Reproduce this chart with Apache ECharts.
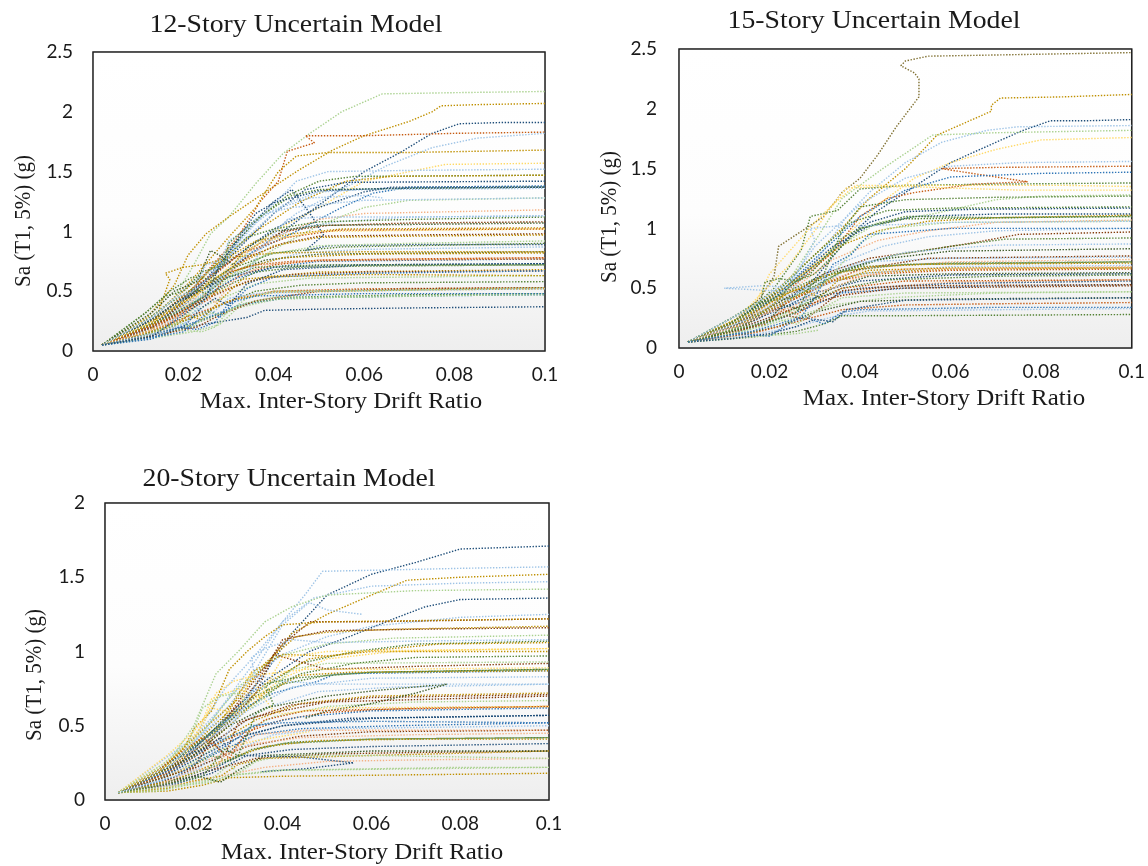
<!DOCTYPE html>
<html><head><meta charset="utf-8">
<style>html,body{margin:0;padding:0;background:#fff}#c{width:1148px;height:866px;filter:blur(.35px)}</style>
<script src="https://cdn.jsdelivr.net/npm/echarts@6/dist/echarts.min.js"></script>
</head><body><div id="c"></div>
<script>
const titles = ['12-Story Uncertain Model','15-Story Uncertain Model','20-Story Uncertain Model'];
const xName = 'Max. Inter-Story Drift Ratio';
const yName = 'Sa (T1, 5%) (g)';
const yMaxes = [2.5,2.5,2];
const palette = ['#2E75B6','#1F4E79','#9DC3E6','#548235','#A9D18E','#BF9000','#FFD966','#C55A11','#F4B183','#843C0C','#385723','#7F6F30'];

// flat x,y pairs
const curves12 = [
[.002,.05,.012,.25,.018,.45,.022,.7,.026,.98,.03,1.12,.036,1.4,.042,1.65,.048,1.82,.055,2.0,.064,2.15,.08,2.16,.1,2.17],
[.002,.05,.012,.28,.018,.55,.021,.8,.025,.98,.03,1.12,.037,1.3,.045,1.5,.053,1.68,.06,1.8,.07,1.92,.075,2.0,.077,2.05,.085,2.06,.1,2.07],
[.002,.05,.012,.2,.02,.38,.028,.62,.035,.82,.042,1.0,.05,1.22,.06,1.5,.068,1.66,.075,1.82,.081,1.9,.09,1.91,.1,1.91],
[.002,.05,.012,.2,.02,.42,.026,.7,.032,.95,.037,1.25,.041,1.42,.043,1.67,.049,1.74,.047,1.8,.06,1.8,.08,1.82,.1,1.83],
[.002,.05,.015,.22,.025,.5,.035,.85,.045,1.15,.055,1.35,.065,1.55,.075,1.7,.085,1.78,.1,1.82],
[.002,.05,.014,.3,.022,.6,.03,.95,.036,1.2,.041,1.5,.045,1.63,.052,1.66,.07,1.66,.1,1.68],
[.002,.05,.015,.3,.025,.6,.035,1.05,.04,1.25,.044,1.35,.048,1.15,.051,.97,.047,.84,.052,.88,.07,.89,.1,.89],
[.002,.05,.016,.25,.03,.7,.04,1.0,.05,1.2,.06,1.42,.07,1.5,.078,1.56,.1,1.57],
[.002,.05,.014,.22,.024,.55,.032,.9,.038,1.15,.045,1.42,.052,1.5,.07,1.51,.1,1.52],
[.002,.05,.013,.25,.022,.52,.03,.85,.037,1.12,.043,1.3,.05,1.42,.058,1.46,.1,1.47],
[.002,.05,.012,.22,.02,.45,.028,.75,.036,1.0,.046,1.25,.056,1.42,.066,1.46,.1,1.47],
[.002,.05,.015,.25,.024,.55,.032,.85,.04,1.15,.047,1.35,.056,1.41,.1,1.42],
[.002,.05,.016,.2,.025,.48,.035,.82,.045,1.0,.055,1.2,.062,1.32,.07,1.37,.1,1.38],
[.002,.05,.014,.24,.022,.5,.03,.75,.04,1.02,.05,1.2,.06,1.33,.066,1.37,.1,1.37],
[.002,.05,.012,.2,.024,.55,.034,.95,.042,1.22,.05,1.33,.06,1.35,.1,1.36],
[.002,.05,.018,.22,.03,.6,.04,.85,.05,1.05,.06,1.2,.07,1.26,.1,1.28],
[.002,.05,.02,.3,.03,.65,.04,.95,.05,1.1,.06,1.15,.1,1.18],
[.002,.05,.014,.22,.024,.5,.034,.8,.044,1.02,.054,1.08,.07,1.12,.1,1.13],
[.002,.05,.012,.2,.022,.48,.032,.8,.042,1.0,.052,1.05,.07,1.07,.1,1.08],
[.002,.05,.012,.26,.02,.5,.028,.74,.036,.92,.044,.98,.055,1.02,.1,1.03],
[.002,.05,.014,.28,.023,.55,.033,.82,.043,.95,.054,1.01,.1,1.02],
[.002,.05,.015,.25,.025,.55,.034,.78,.042,.9,.05,.96,.07,.97,.1,.98],
[.002,.05,.012,.2,.022,.46,.03,.68,.04,.88,.05,.95,.07,.96,.1,.97],
[.002,.05,.016,.22,.028,.58,.038,.8,.05,.88,.07,.9,.1,.92],
[.002,.05,.012,.24,.02,.44,.03,.68,.04,.82,.055,.87,.1,.9],
[.002,.05,.017,.25,.026,.48,.036,.72,.046,.82,.06,.85,.1,.87],
[.002,.05,.012,.22,.02,.42,.03,.65,.038,.76,.05,.81,.1,.83],
[.002,.05,.014,.26,.024,.5,.032,.68,.042,.78,.06,.81,.1,.82],
[.002,.05,.015,.22,.025,.46,.033,.64,.04,.72,.05,.76,.07,.77,.1,.78],
[.002,.05,.013,.2,.023,.42,.031,.6,.04,.7,.05,.75,.1,.77],
[.002,.05,.011,.22,.02,.44,.03,.62,.04,.7,.055,.72,.1,.73],
[.002,.05,.016,.28,.025,.46,.036,.66,.045,.7,.06,.71,.1,.72],
[.002,.05,.018,.3,.028,.5,.038,.62,.05,.66,.1,.68],
[.002,.05,.013,.2,.024,.42,.034,.58,.044,.64,.06,.66,.1,.67],
[.002,.05,.015,.18,.026,.4,.036,.56,.048,.61,.1,.63],
[.002,.05,.017,.2,.028,.38,.036,.5,.046,.55,.06,.57,.1,.58],
[.002,.05,.012,.16,.022,.3,.032,.44,.04,.5,.06,.52,.1,.53],
[.002,.05,.014,.18,.024,.3,.03,.42,.04,.49,.07,.51,.1,.52],
[.002,.05,.016,.14,.026,.28,.034,.4,.044,.45,.07,.47,.1,.48],
[.002,.05,.016,.16,.024,.26,.032,.38,.042,.44,.07,.46,.1,.47],
[.002,.05,.012,.12,.024,.22,.034,.28,.038,.34,.05,.35,.07,.36,.1,.37],
[.002,.05,.013,.17,.017,.6,.016,.65,.02,.7,.024,.72,.03,.78,.04,.82,.06,.83,.1,.83],
[.002,.05,.012,.1,.022,.16,.028,.22,.032,.36,.04,.43,.06,.46,.1,.47],
[.002,.05,.015,.14,.023,.2,.028,.3,.036,.42,.05,.5,.07,.52,.1,.53],
[.002,.05,.018,.28,.026,.44,.03,.66,.036,.72,.044,.75,.06,.76,.1,.77],
[.002,.05,.014,.3,.021,.55,.028,.72,.03,.92,.034,1.02,.04,1.18,.048,1.28,.06,1.3,.064,1.28]
];
const colors12 = [4,5,1,7,2,5,1,6,2,3,5,1,0,1,2,4,8,2,9,5,7,9,5,4,3,2,10,5,7,0,1,3,5,9,4,3,7,5,3,0,1,5,4,9,7,2];
const wobble12 = [
[.002,.05,.012,.33,.017,.5,.022,.62,.026,.6,.03,.8,.034,.95,.04,1.02,.05,1.08,.07,1.1,.1,1.12],
[.002,.05,.011,.3,.016,.46,.02,.5,.024,.66,.029,.72,.03,.9,.036,1.1,.044,1.3,.05,1.35,.07,1.36,.1,1.37],
[.002,.05,.01,.12,.018,.18,.024,.16,.027,.2,.03,.34,.034,.4,.04,.45,.06,.45,.1,.48],
[.002,.05,.012,.1,.02,.22,.023,.36,.026,.3,.03,.44,.036,.48,.05,.5,.1,.52],
[.002,.05,.014,.12,.02,.16,.026,.34,.028,.28,.034,.52,.04,.62,.06,.65,.1,.67],
[.002,.05,.012,.16,.018,.26,.024,.5,.027,.4,.032,.62,.038,.72,.05,.76,.1,.78],
[.002,.05,.013,.32,.018,.5,.023,.58,.026,.84,.028,.8,.031,.72,.034,.86,.04,1.0,.05,1.05,.1,1.07],
[.002,.05,.012,.14,.018,.2,.021,.3,.024,.26,.028,.42,.033,.6,.04,.62,.06,.64,.1,.63],
[.002,.05,.015,.16,.02,.2,.024,.36,.027,.44,.03,.38,.034,.56,.042,.68,.06,.72,.1,.73],
[.002,.05,.011,.24,.017,.4,.022,.52,.025,.48,.03,.62,.036,.7,.05,.72,.1,.72],
[.002,.05,.01,.1,.019,.24,.022,.2,.026,.32,.029,.3,.034,.44,.04,.5,.07,.51,.1,.53],
[.002,.05,.014,.26,.019,.4,.023,.46,.026,.6,.03,.66,.033,.82,.038,.92,.05,1.0,.1,1.02],
[.002,.05,.013,.28,.018,.44,.022,.5,.025,.72,.03,.78,.034,1.02,.037,1.14,.044,1.2,.06,1.26,.1,1.28],
[.002,.05,.013,.1,.019,.2,.023,.18,.027,.24,.03,.4,.036,.46,.06,.48,.1,.48],
[.002,.05,.015,.16,.021,.24,.026,.5,.03,.66,.034,.64,.038,.9,.043,1.1,.05,1.12,.07,1.12,.1,1.13],
[.002,.05,.013,.12,.02,.3,.025,.44,.028,.72,.031,.88,.036,1.15,.04,1.24,.05,1.34,.065,1.36,.1,1.37]
];
const wobbleColors12 = [3,3,4,2,0,8,10,5,1,3,4,6,2,0,2,1];

const curves15 = [
[.002,.05,.012,.22,.018,.42,.021,.6,.022,.85,.026,.95,.032,1.1,.036,1.3,.04,1.42,.044,1.62,.048,1.85,.051,2.0,.053,2.1,.053,2.25,.052,2.3,.049,2.36,.05,2.4,.055,2.44,.07,2.45,.1,2.47],
[.002,.05,.014,.26,.022,.5,.03,.78,.036,1.0,.042,1.25,.05,1.5,.057,1.78,.063,1.88,.069,1.98,.069,2.03,.071,2.09,.085,2.1,.1,2.12],
[.002,.05,.014,.2,.024,.4,.03,.58,.038,.95,.044,1.15,.052,1.35,.06,1.55,.07,1.72,.076,1.82,.082,1.9,.09,1.9,.1,1.91],
[.002,.05,.015,.22,.025,.48,.032,.82,.037,1.1,.042,1.3,.05,1.55,.058,1.72,.068,1.82,.075,1.85,.1,1.86],
[.002,.05,.016,.3,.024,.55,.031,.95,.036,1.25,.045,1.5,.056,1.78,.07,1.8,.1,1.82],
[.002,.05,.015,.25,.026,.58,.036,.9,.044,1.2,.052,1.42,.06,1.55,.07,1.66,.08,1.74,.1,1.76],
[.002,.05,.014,.25,.024,.52,.03,.85,.04,1.2,.05,1.42,.06,1.52,.075,1.55,.1,1.56],
[.002,.05,.013,.2,.024,.48,.034,.8,.04,1.1,.046,1.25,.052,1.3,.065,1.37,.077,1.39,.07,1.43,.063,1.47,.058,1.5,.07,1.51,.1,1.52],
[.002,.05,.012,.18,.022,.45,.032,.82,.04,1.1,.05,1.32,.06,1.43,.08,1.46,.1,1.47],
[.002,.05,.013,.22,.021,.5,.027,.82,.029,1.1,.035,1.15,.04,1.33,.05,1.36,.07,1.37,.1,1.38],
[.002,.05,.016,.3,.02,.62,.03,1.05,.034,1.2,.039,1.36,.05,1.36,.07,1.36,.085,1.36,.1,1.35],
[.002,.05,.012,.2,.018,.45,.024,.68,.03,.98,.033,1.15,.037,1.34,.05,1.35,.075,1.32,.1,1.32],
[.002,.05,.014,.2,.024,.5,.034,.82,.044,1.05,.056,1.12,.07,1.24,.08,1.27,.1,1.28],
[.002,.05,.012,.22,.022,.48,.03,.78,.038,1.05,.046,1.15,.06,1.17,.1,1.18],
[.002,.05,.015,.25,.024,.5,.034,.82,.042,1.05,.05,1.14,.065,1.16,.1,1.17],
[.002,.05,.012,.22,.024,.52,.034,.85,.042,1.02,.052,1.1,.07,1.12,.1,1.12],
[.002,.05,.016,.3,.026,.58,.036,.86,.044,.98,.055,1.06,.07,1.09,.1,1.11],
[.002,.05,.013,.2,.024,.46,.034,.74,.044,.9,.055,.98,.07,1.05,.1,1.07],
[.002,.05,.015,.18,.025,.42,.035,.7,.045,.85,.055,.93,.07,.98,.1,1.0],
[.002,.05,.012,.18,.022,.38,.032,.62,.042,.75,.055,.82,.065,.88,.075,.95,.1,.97],
[.002,.05,.015,.2,.026,.42,.036,.64,.048,.78,.06,.85,.072,.91,.1,.92],
[.002,.05,.018,.22,.028,.44,.038,.68,.05,.8,.07,.86,.1,.87],
[.002,.05,.013,.2,.024,.42,.034,.63,.044,.74,.06,.81,.1,.83],
[.002,.05,.012,.16,.022,.34,.03,.5,.04,.66,.055,.75,.1,.77],
[.002,.05,.014,.18,.024,.38,.034,.58,.042,.67,.06,.72,.1,.74],
[.002,.05,.011,.2,.02,.4,.03,.58,.04,.68,.06,.71,.1,.72],
[.002,.05,.013,.22,.022,.42,.032,.6,.042,.68,.055,.7,.1,.71],
[.002,.05,.014,.2,.023,.38,.033,.56,.042,.63,.06,.66,.1,.67],
[.002,.05,.016,.22,.026,.42,.034,.56,.044,.62,.06,.65,.1,.66],
[.002,.05,.012,.16,.022,.32,.03,.46,.04,.56,.06,.61,.1,.62],
[.002,.05,.016,.17,.026,.34,.036,.5,.046,.57,.07,.6,.1,.61],
[.002,.05,.013,.14,.024,.28,.034,.42,.044,.51,.06,.55,.1,.57],
[.002,.05,.011,.16,.02,.3,.03,.42,.04,.5,.06,.54,.1,.56],
[.002,.05,.012,.12,.022,.24,.03,.36,.036,.46,.05,.5,.07,.52,.1,.53],
[.002,.05,.016,.2,.026,.34,.036,.44,.048,.5,.07,.51,.1,.52],
[.002,.05,.014,.14,.024,.24,.034,.36,.046,.42,.07,.46,.1,.47],
[.002,.05,.012,.1,.022,.18,.03,.3,.04,.39,.06,.41,.1,.42],
[.002,.05,.016,.12,.026,.22,.036,.32,.05,.36,.07,.37,.1,.38],
[.002,.05,.014,.1,.024,.16,.034,.26,.042,.31,.07,.32,.1,.33],
[.002,.05,.016,.09,.026,.14,.032,.2,.036,.27,.05,.27,.1,.28],
[.002,.05,.018,.1,.026,.12,.031,.15],
[.002,.05,.016,.25,.024,.44,.03,.5,.018,.52,.01,.5,.025,.47,.03,.5,.04,.62,.06,.68,.1,.69],
[.002,.05,.018,.38,.019,.55,.022,.58,.026,.56,.03,.62,.036,.85,.04,1.0,.05,1.1,.07,1.09,.1,1.1]
];
const colors15 = [11,5,1,2,4,6,2,7,0,3,6,6,4,3,1,1,5,8,2,9,3,2,10,9,8,3,5,5,7,1,3,8,1,0,9,4,10,7,2,3,4,2,3];
const wobble15 = [
[.002,.05,.012,.26,.017,.38,.021,.4,.025,.42,.03,.52,.036,.64,.05,.7,.1,.72],
[.002,.05,.013,.12,.02,.1,.025,.22,.028,.26,.032,.2,.036,.3,.04,.32,.07,.34,.1,.34],
[.002,.05,.012,.08,.02,.12,.026,.18,.03,.24,.034,.22,.037,.32,.05,.4,.1,.42],
[.002,.05,.01,.1,.018,.2,.024,.27,.028,.24,.032,.36,.036,.48,.05,.52,.1,.53],
[.002,.05,.014,.14,.02,.2,.024,.3,.027,.34,.03,.46,.034,.62,.04,.88,.046,1.0,.06,1.05,.1,1.06],
[.002,.05,.015,.2,.022,.4,.024,.5,.026,.56,.029,.62,.032,.75,.036,.92,.04,1.0,.05,1.08,.1,1.1],
[.002,.05,.013,.18,.018,.3,.023,.42,.027,.36,.03,.5,.033,.64,.04,.72,.06,.75,.1,.76],
[.002,.05,.012,.14,.019,.2,.023,.32,.026,.28,.03,.38,.036,.5,.05,.56,.1,.57],
[.002,.05,.011,.14,.02,.34,.024,.46,.027,.5,.031,.42,.035,.56,.042,.65,.06,.67,.1,.67],
[.002,.05,.012,.16,.018,.2,.022,.24,.026,.2,.03,.3,.036,.42,.05,.46,.1,.47],
[.002,.05,.016,.18,.02,.24,.023,.36,.027,.32,.03,.42,.035,.52,.042,.6,.06,.62,.1,.63],
[.002,.05,.014,.2,.02,.3,.025,.34,.03,.46,.034,.5,.04,.6,.05,.66,.1,.68],
[.002,.05,.016,.34,.021,.48,.026,.62,.03,.9,.029,1.0,.035,1.02,.04,1.02,.06,1.05,.1,1.06],
[.002,.05,.013,.16,.02,.22,.026,.3,.029,.52,.032,.62,.036,.98,.04,1.18,.05,1.24,.07,1.26,.1,1.27],
[.002,.05,.016,.14,.022,.2,.027,.26,.03,.42,.034,.7,.038,.78,.042,.95,.06,1.0,.1,1.0]
];
const wobbleColors15 = [3,0,1,9,4,3,2,7,5,4,10,8,2,3,0];

const curves20 = [
[.003,.05,.014,.18,.024,.42,.03,.62,.036,.85,.042,1.12,.05,1.38,.06,1.52,.07,1.6,.08,1.69,.09,1.7,.1,1.71],
[.003,.05,.014,.2,.022,.45,.028,.7,.033,.9,.04,1.2,.045,1.38,.049,1.54,.065,1.55,.08,1.56,.1,1.57],
[.003,.05,.016,.24,.024,.42,.03,.72,.036,.9,.042,1.12,.05,1.25,.06,1.38,.068,1.48,.08,1.5,.1,1.52],
[.003,.05,.012,.2,.02,.42,.027,.75,.034,.98,.04,1.2,.047,1.36,.06,1.44,.08,1.46,.1,1.47],
[.003,.05,.014,.24,.02,.5,.025,.85,.03,1.0,.036,1.2,.042,1.3,.05,1.38,.07,1.41,.1,1.42],
[.003,.05,.016,.22,.028,.58,.036,.8,.046,1.0,.055,1.1,.065,1.22,.072,1.3,.08,1.35,.1,1.36],
[.003,.05,.014,.22,.024,.5,.032,.78,.04,1.18,.046,1.33,.05,1.28,.058,1.25],
[.003,.05,.02,.42,.03,.75,.04,.98,.05,1.1,.06,1.17,.08,1.23,.1,1.25],
[.003,.05,.016,.25,.026,.5,.034,.82,.04,1.05,.045,1.17,.046,1.2,.06,1.2,.08,1.21,.1,1.22],
[.003,.05,.013,.22,.023,.5,.03,.68,.036,.92,.043,1.1,.05,1.13,.065,1.15,.1,1.17],
[.003,.05,.016,.26,.026,.5,.034,.78,.038,.98,.04,1.08,.05,1.14,.07,1.15,.1,1.16],
[.003,.05,.014,.24,.022,.46,.03,.76,.038,.96,.05,1.05,.065,1.09,.1,1.11],
[.003,.05,.012,.2,.024,.46,.034,.72,.044,.92,.056,1.0,.07,1.05,.1,1.07],
[.003,.05,.014,.22,.026,.5,.036,.78,.046,.95,.058,1.0,.075,1.05,.1,1.06],
[.003,.05,.018,.28,.03,.6,.04,.82,.05,.95,.065,1.0,.08,1.01,.1,1.02],
[.003,.05,.016,.26,.028,.6,.033,.86,.04,.98,.05,.97,.06,1.0,.1,1.0],
[.003,.05,.014,.22,.024,.46,.034,.7,.044,.85,.056,.92,.07,.96,.1,.97],
[.003,.05,.016,.25,.026,.46,.034,.72,.038,.98,.044,.93,.05,.88,.07,.9,.1,.92],
[.003,.05,.013,.2,.023,.42,.032,.62,.04,.78,.05,.84,.06,.86,.1,.88],
[.003,.05,.014,.22,.022,.4,.03,.6,.038,.72,.048,.8,.052,.85,.1,.87],
[.003,.05,.018,.26,.028,.5,.036,.72,.044,.84,.055,.86,.1,.87],
[.003,.05,.012,.18,.022,.38,.032,.6,.042,.76,.06,.82,.1,.83],
[.003,.05,.016,.2,.026,.42,.036,.62,.048,.73,.065,.76,.1,.78],
[.003,.05,.014,.18,.024,.36,.034,.54,.044,.65,.06,.7,.1,.72],
[.003,.05,.012,.16,.022,.34,.032,.54,.042,.64,.06,.69,.1,.71],
[.003,.05,.017,.2,.028,.42,.038,.56,.05,.63,.07,.66,.1,.67],
[.003,.05,.014,.18,.024,.36,.03,.44,.04,.54,.05,.59,.07,.62,.1,.63],
[.003,.05,.016,.22,.026,.4,.034,.5,.044,.56,.06,.6,.1,.62],
[.003,.05,.012,.14,.022,.3,.03,.42,.04,.5,.055,.55,.1,.57],
[.003,.05,.014,.16,.024,.3,.034,.44,.044,.48,.065,.5,.1,.52],
[.003,.05,.016,.15,.028,.32,.038,.44,.05,.48,.1,.5],
[.003,.05,.013,.12,.022,.24,.032,.36,.044,.43,.06,.46,.1,.47],
[.003,.05,.012,.14,.024,.28,.034,.38,.044,.42,.07,.44,.1,.45],
[.003,.05,.014,.12,.024,.22,.034,.34,.042,.39,.06,.41,.1,.42],
[.003,.05,.016,.14,.026,.26,.036,.36,.048,.4,.07,.41,.1,.41],
[.003,.05,.015,.1,.024,.18,.032,.3,.042,.34,.06,.36,.1,.38],
[.003,.05,.012,.09,.024,.2,.034,.28,.05,.31,.07,.32,.1,.33],
[.003,.05,.016,.1,.026,.16,.036,.22,.05,.26,.07,.27,.1,.28],
[.003,.05,.013,.07,.022,.12,.03,.17,.038,.2,.06,.21,.08,.22,.1,.22],
[.003,.05,.014,.06,.022,.1,.028,.15,.04,.16,.07,.17,.1,.18],
[.003,.05,.015,.11,.024,.2,.03,.3,.044,.29,.056,.25,.045,.21,.035,.19],
[.003,.05,.02,.3,.028,.5,.036,.62,.05,.7,.062,.74,.077,.78,.07,.72,.06,.65,.05,.6,.045,.55],
[.003,.05,.014,.15,.026,.34,.034,.4,.046,.46],
[.003,.05,.016,.3,.022,.5,.025,.72,.029,.8,.034,.84,.045,.88,.06,.88,.1,.89]
];
const colors20 = [1,2,5,2,4,1,2,2,9,5,9,4,3,5,6,5,3,9,3,0,5,2,2,5,9,4,7,0,1,0,2,9,8,3,5,1,9,8,4,5,1,10,6,6];
const wobble20 = [
[.003,.05,.012,.06,.018,.1,.024,.12,.028,.17,.034,.18,.04,.2,.07,.21,.1,.22],
[.003,.05,.014,.08,.02,.13,.026,.16,.03,.24,.036,.28,.06,.3,.1,.33],
[.003,.05,.012,.14,.018,.2,.024,.3,.028,.26,.033,.34,.04,.38,.06,.41,.1,.42],
[.003,.05,.01,.16,.016,.28,.022,.34,.026,.42,.028,.32,.032,.44,.04,.5,.06,.55,.1,.57],
[.003,.05,.012,.2,.017,.32,.022,.42,.025,.36,.028,.28,.031,.42,.036,.54,.045,.6,.06,.61,.1,.63],
[.003,.05,.014,.16,.02,.22,.024,.4,.027,.3,.03,.52,.034,.56,.04,.6,.05,.66,.1,.7],
[.003,.05,.015,.24,.02,.4,.024,.5,.029,.55,.032,.72,.036,.76,.034,.84,.04,.8,.05,.78,.1,.78],
[.003,.05,.018,.3,.021,.46,.024,.68,.03,.75,.036,.68,.038,.6,.04,.58,.05,.62,.1,.63],
[.003,.05,.012,.18,.018,.36,.02,.48,.024,.6,.028,.88,.032,1.0,.036,1.1,.04,1.18,.05,1.2,.1,1.22],
[.003,.05,.011,.09,.016,.14,.021,.16,.026,.12,.03,.2,.036,.3,.06,.33,.1,.33],
[.003,.05,.012,.1,.02,.2,.025,.22,.027,.3,.03,.36,.034,.44,.045,.47,.1,.47],
[.003,.05,.016,.16,.022,.28,.026,.34,.03,.42,.033,.5,.04,.52,.06,.53,.1,.52],
[.003,.05,.017,.1,.024,.14,.028,.24,.03,.18,.034,.26,.04,.3,.06,.3,.1,.28],
[.003,.05,.014,.3,.02,.46,.024,.62,.03,.58,.033,.86,.035,.7,.04,.96,.05,1.0,.1,1.02],
[.003,.05,.013,.24,.019,.4,.022,.62,.026,.7,.03,.72,.033,.62,.037,.72,.042,.88,.05,.92,.1,.93],
[.003,.05,.016,.12,.022,.16,.027,.34,.03,.3,.034,.58,.038,.64,.036,.78,.042,.82,.06,.86,.1,.88],
[.003,.05,.013,.14,.021,.2,.027,.42,.031,.62,.034,.78,.033,.96,.036,1.02,.042,1.08,.05,1.06,.07,1.07,.1,1.08]
];
const wobbleColors20 = [4,5,3,1,7,9,2,6,5,10,8,0,4,6,4,3,2];

const panels = [
  {curves:curves12.concat(wobble12), colors:colors12.slice(0,curves12.length).concat(wobbleColors12), left:93, top:52, width:452, height:299, titleX:296, titleY:38, nameX:341, nameY:402, yNameX:24, yNameY:221, margin:20},
  {curves:curves15.concat(wobble15), colors:colors15.slice(0,curves15.length).concat(wobbleColors15), left:679, top:49, width:453, height:299, titleX:874, titleY:34, nameX:944, nameY:399, yNameX:610, yNameY:217, margin:22},
  {curves:curves20.concat(wobble20), colors:colors20.slice(0,curves20.length).concat(wobbleColors20), left:105, top:503, width:444, height:297, titleX:289, titleY:492, nameX:362, nameY:853, yNameX:35, yNameY:675, margin:20}
];

const gradient = new echarts.graphic.LinearGradient(0,0,0,1,[
  {offset:0,color:'#ffffff'},{offset:.55,color:'#fdfdfd'},{offset:1,color:'#eeeeee'}]);
const serif = '"Liberation Serif","Times New Roman",serif';
const sans = 'Lato,"Noto Sans",sans-serif';

const toPoints = f => { const o=[]; for(let i=0;i<f.length;i+=2) o.push([f[i],f[i+1]]); return o; };

const grid=[],xAxis=[],yAxis=[],series=[],graphic=[];
panels.forEach((p,i)=>{
  grid.push({left:p.left,top:p.top,width:p.width,height:p.height,show:true,backgroundColor:gradient,borderColor:'#222',borderWidth:1.5,z:1});
  xAxis.push({gridIndex:i,type:'value',min:0,max:.1,interval:.02,
    axisLine:{show:false},axisTick:{show:false},
    axisLabel:{color:'#1a1a1a',fontFamily:sans,fontSize:19,margin:14,hideOverlap:false,showMaxLabel:true},
    splitLine:{show:true,lineStyle:{color:'#dcdcdc',width:2}}});
  yAxis.push({gridIndex:i,type:'value',min:0,max:yMaxes[i],interval:.5,
    axisLine:{show:false},axisTick:{show:false},
    axisLabel:{color:'#1a1a1a',fontFamily:sans,fontSize:19,margin:p.margin,showMaxLabel:true},
    splitLine:{show:true,lineStyle:{color:'#dcdcdc',width:2}}});
  graphic.push({type:'text',x:p.titleX,y:p.titleY,scaleX:1.11,z:10,
    style:{text:titles[i],fill:'#1a1a1a',font:'25px '+serif,textAlign:'center',textVerticalAlign:'bottom'}});
  graphic.push({type:'text',x:p.nameX,y:p.nameY,scaleX:1.085,z:10,
    style:{text:xName,fill:'#1a1a1a',font:'23px '+serif,textAlign:'center',textVerticalAlign:'middle'}});
  graphic.push({type:'text',x:p.yNameX,y:p.yNameY,rotation:Math.PI/2,scaleX:1.05,scaleY:1.2,z:10,
    style:{text:yName,fill:'#1a1a1a',font:'20px '+serif,textAlign:'center',textVerticalAlign:'middle'}});
  p.curves.forEach((c,j)=>{
    series.push({type:'line',xAxisIndex:i,yAxisIndex:i,data:toPoints(c),showSymbol:false,symbol:'none',silent:true,
      smooth:false,clip:true,animation:false,z:3,
      lineStyle:{color:palette[p.colors[j]],width:1.4,type:[1.4,1.6]}});
  });
});

const chart = echarts.init(document.getElementById('c'),null,{renderer:'canvas'});
chart.setOption({animation:false,backgroundColor:'#fff',graphic,grid,xAxis,yAxis,series,tooltip:{show:false},legend:{show:false}});
</script></body></html>
